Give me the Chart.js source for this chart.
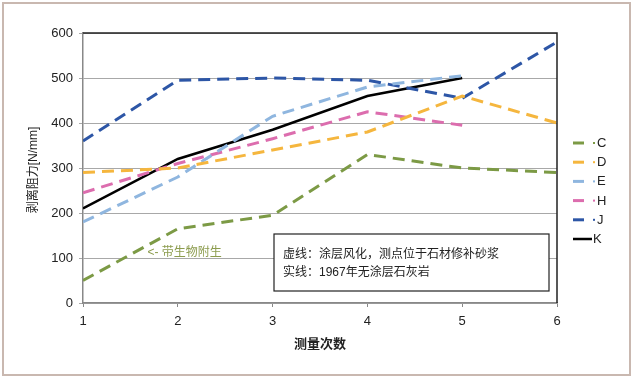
<!DOCTYPE html>
<html><head><meta charset="utf-8">
<script src="https://cdn.jsdelivr.net/npm/chart.js@4/dist/chart.umd.min.js"></script>
<style>html,body{margin:0;padding:0;background:#fff;}#wrap{width:635px;height:381px;position:relative;}</style>
</head><body><div id="wrap"><canvas id="c" width="635" height="381"></canvas></div>
<script>
const xValues = [1, 2, 3, 4, 5, 6];
const seriesNames = ['C', 'D', 'E', 'H', 'J', 'K'];
const C = [50, 165, 195, 330, 300, 290];
const D = [290, 300, 340, 380, 460, 400];
const E = [180, 280, 415, 480, 505];
const H = [245, 310, 365, 425, 395];
const J = [360, 495, 500, 495, 455, 580];
const K = [210, 320, 385, 460, 500];
const yTicks = [0, 100, 200, 300, 400, 500, 600];
const xTicks = [1, 2, 3, 4, 5, 6];
const yTitle = '剥离阻力[N/mm]';
const xTitle = '测量次数';
const note1 = '虚线：涂层风化，测点位于石材修补砂浆';
const note2 = '实线：1967年无涂层石灰岩';
const bioNote = '<- 带生物附生';

const FONT = '"Liberation Sans", "Noto Sans CJK SC", sans-serif';
const colors = {C:'#7C9A45', D:'#F5B63E', E:'#8FB6DF', H:'#DC6DAE', J:'#2D56A6', K:'#000000'};
const valuesMap = {C, D, E, H, J, K};

function pts(arr){ return arr.map((v,i)=>({x:xValues[i], y:v})); }

const datasets = seriesNames.map(n => ({
  label: n,
  data: pts(valuesMap[n]),
  borderColor: colors[n],
  backgroundColor: colors[n],
  borderWidth: n === 'K' ? 2.5 : 3,
  borderDash: n === 'K' ? [] : [12, 7],
  pointRadius: 0,
  tension: 0,
  fill: false
}));

const deco = {
  id: 'deco',
  beforeDraw(chart){
    const ctx = chart.ctx;
    ctx.save();
    ctx.fillStyle = '#fff';
    ctx.fillRect(0,0,chart.width,chart.height);
    ctx.restore();
  },
  afterDatasetsDraw(chart){
    const ctx = chart.ctx;
    const a = chart.chartArea;
    const xs = chart.scales.x, ys = chart.scales.y;
    ctx.save();
    // top & right border
    ctx.strokeStyle = '#222';
    ctx.lineWidth = 1.5;
    ctx.beginPath();
    ctx.moveTo(a.left, a.top); ctx.lineTo(a.right, a.top); ctx.lineTo(a.right, a.bottom);
    ctx.stroke();
    // outer frame
    ctx.strokeStyle = '#c9b8b0';
    ctx.lineWidth = 2;
    ctx.strokeRect(3, 3, 627, 372);
    // axis titles
    ctx.fillStyle = '#222';
    ctx.font = 'bold 13px ' + FONT;
    ctx.textAlign = 'center'; ctx.textBaseline = 'middle';
    ctx.fillText(xTitle, (a.left + a.right)/2, 344);
    ctx.save();
    ctx.translate(34, (a.top + a.bottom)/2 + 2);
    ctx.rotate(-Math.PI/2);
    ctx.font = '12px ' + FONT;
    ctx.fillText(yTitle, 0, 0);
    ctx.restore();
    // bio note
    ctx.fillStyle = '#8C9C4E';
    ctx.font = '12px ' + FONT;
    ctx.textAlign = 'left';
    ctx.fillText(bioNote, xs.getPixelForValue(1.68), ys.getPixelForValue(112));
    // note box
    const bx = 274, by = 234, bw = 275, bh = 57;
    ctx.fillStyle = '#fff';
    ctx.fillRect(bx, by, bw, bh);
    ctx.strokeStyle = '#222'; ctx.lineWidth = 1.2;
    ctx.strokeRect(bx, by, bw, bh);
    ctx.fillStyle = '#222';
    ctx.font = '12px ' + FONT;
    ctx.fillText(note1, 283, 255);
    ctx.fillText(note2, 283, 273);
    // legend
    ctx.font = '13px ' + FONT;
    const ly0 = 143, lstep = 19.2;
    seriesNames.forEach((n, i) => {
      const y = ly0 + i*lstep;
      ctx.strokeStyle = colors[n];
      ctx.lineWidth = n === 'K' ? 2.5 : 3;
      ctx.setLineDash([]);
      ctx.beginPath();
      if (n === 'K') { ctx.moveTo(573, y); ctx.lineTo(592, y); }
      else { ctx.moveTo(573, y); ctx.lineTo(584, y); }
      ctx.stroke();
      if (n !== 'K') {
        ctx.fillStyle = colors[n];
        ctx.fillRect(593, y-1, 2, 2);
      }
      ctx.fillStyle = '#222';
      ctx.textBaseline = 'middle';
      ctx.fillText(n, n === 'K' ? 593 : 597, y + 0.5);
    });
    ctx.restore();
  }
};

new Chart(document.getElementById('c'), {
  type: 'line',
  data: { datasets },
  options: {
    responsive: false,
    animation: false,
    devicePixelRatio: 1,
    layout: { padding: { top: 33, right: 78, bottom: 0, left: 0 } },
    plugins: { legend: { display: false }, tooltip: { enabled: false } },
    scales: {
      x: {
        type: 'linear', min: 1, max: 6,
        afterBuildTicks(s){ s.ticks = xTicks.map(v => ({value: v})); },
        afterFit(s){ s.height = 78; },
        grid: { drawOnChartArea: false, drawTicks: true, tickLength: 4, color: '#888' },
        border: { color: '#888', width: 1.5 },
        ticks: { color: '#222', font: { family: FONT, size: 13 }, padding: 7 }
      },
      y: {
        min: 0, max: 600,
        afterBuildTicks(s){ s.ticks = yTicks.map(v => ({value: v})); },
        afterFit(s){ s.width = 83; },
        grid: { color: '#a8a8a8', lineWidth: 1, tickLength: 4 },
        border: { color: '#888', width: 1.5 },
        ticks: { color: '#222', font: { family: FONT, size: 13 }, padding: 6 }
      }
    }
  },
  plugins: [deco]
});
</script></body></html>
